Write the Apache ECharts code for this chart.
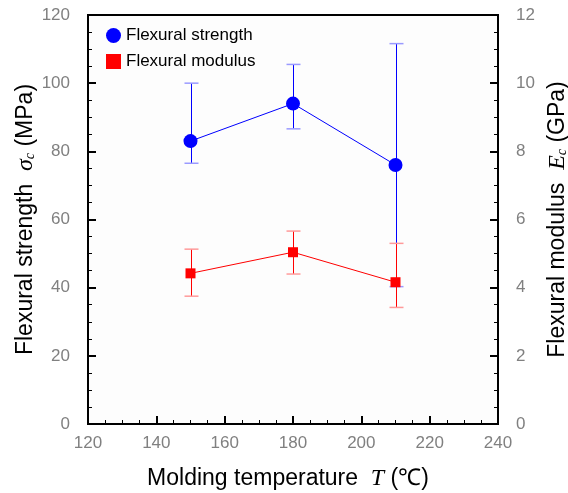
<!DOCTYPE html>
<html><head><meta charset="utf-8">
<script src="https://cdn.jsdelivr.net/npm/echarts@6/dist/echarts.min.js"></script>
<style>html,body{margin:0;padding:0;background:#fff}#c{width:568px;height:493px}</style>
</head><body><div id="c"></div>
<script>
const temps = [150, 180, 210];
const strength = [83, 94, 76];
const strengthLow = [76.5, 86.6, 40.3];
const strengthHigh = [100, 105.5, 111.6];
const modulus = [4.42, 5.04, 4.16];
const modulusLow = [3.75, 4.40, 3.42];
const modulusHigh = [5.13, 5.66, 5.30];

const chart = echarts.init(document.getElementById('c'));
const FONT = '"Liberation Sans", Arial, sans-serif';
const SERIF = '"Liberation Serif", "Times New Roman", serif';

function errBar(color, capColor) {
  return function (params, api) {
    const x = api.value(0);
    const lo = api.coord([x, api.value(1)]);
    const hi = api.coord([x, api.value(2)]);
    const px = Math.round(lo[0]) + 0.5;
    const w = 7;
    return {
      type: 'group',
      children: [
        {type: 'line', shape: {x1: px, y1: lo[1], x2: px, y2: hi[1]}, style: {stroke: color, lineWidth: 1}},
        {type: 'line', shape: {x1: px - w, y1: lo[1], x2: px + w, y2: lo[1]}, style: {stroke: capColor, lineWidth: 1.5}},
        {type: 'line', shape: {x1: px - w, y1: hi[1], x2: px + w, y2: hi[1]}, style: {stroke: capColor, lineWidth: 1.5}}
      ]
    };
  };
}

const axisLabel = {color: '#808080', fontSize: 17, fontFamily: FONT};
function nameStyle(extra) {
  return Object.assign({color: '#000', fontSize: 23, fontFamily: FONT,
    rich: {
      it: {fontFamily: SERIF, fontStyle: 'italic', fontSize: 24, color: '#000'},
      sub: {fontFamily: SERIF, fontStyle: 'italic', fontSize: 14, color: '#000', padding: [9, 0, 0, 0]}
    }}, extra || {});
}

chart.setOption({
  animation: false,
  backgroundColor: '#fff',
  grid: {left: 88, right: 70, top: 15, bottom: 69, show: true, borderColor: '#000', borderWidth: 2,
    backgroundColor: '#fdfdfd', containLabel: false, outerBoundsMode: 'none'},
  legend: {
    orient: 'vertical', left: 101, top: 22, itemGap: 9, itemWidth: 15, itemHeight: 15,
    textStyle: {fontSize: 17, fontFamily: FONT, color: '#000'},
    data: [{name: 'Flexural strength', icon: 'circle'}, {name: 'Flexural modulus', icon: 'rect'}]
  },
  xAxis: {
    type: 'value', min: 120, max: 240, interval: 20,
    name: 'Molding temperature  {it|T} (℃)', nameLocation: 'middle', nameGap: 43,
    nameMoveOverlap: false,
    nameTextStyle: nameStyle({padding: [0, 10, 0, 0]}),
    axisLine: {lineStyle: {color: '#000', width: 2}},
    axisTick: {inside: true, length: 8, lineStyle: {color: '#000', width: 2}},
    minorTick: {show: true, splitNumber: 4, length: 4, lineStyle: {color: '#000', width: 1}},
    axisLabel: Object.assign({margin: 11}, axisLabel),
    splitLine: {show: false}
  },
  yAxis: [
    {
      type: 'value', min: 0, max: 120, interval: 20, position: 'left',
      name: 'Flexural strength  {it|σ}{sub|c} (MPa)', nameLocation: 'middle', nameGap: 50, nameRotate: 90,
      nameMoveOverlap: false,
      nameTextStyle: nameStyle(),
      axisLine: {show: true, lineStyle: {color: '#000', width: 2}},
      axisTick: {inside: true, length: 8, lineStyle: {color: '#000', width: 2}},
      minorTick: {show: true, splitNumber: 4, length: 4, lineStyle: {color: '#000', width: 1}},
      axisLabel: Object.assign({margin: 18}, axisLabel),
      splitLine: {show: false}
    },
    {
      type: 'value', min: 0, max: 12, interval: 2, position: 'right',
      name: 'Flexural modulus  {it|E}{sub|c} (GPa)', nameLocation: 'middle', nameGap: 48, nameRotate: 90,
      nameMoveOverlap: false,
      nameTextStyle: nameStyle(),
      axisLine: {show: true, lineStyle: {color: '#000', width: 2}},
      axisTick: {inside: true, length: 8, lineStyle: {color: '#000', width: 2}},
      minorTick: {show: true, splitNumber: 4, length: 4, lineStyle: {color: '#000', width: 1}},
      axisLabel: Object.assign({margin: 18}, axisLabel),
      splitLine: {show: false}
    }
  ],
  series: [
    {
      type: 'custom', name: 'sErr', yAxisIndex: 0, z: 2,
      renderItem: errBar('#0000ff', '#9a9aff'),
      encode: {x: 0, y: [1, 2]},
      data: temps.map((t, i) => [t, strengthLow[i], strengthHigh[i]])
    },
    {
      type: 'custom', name: 'mErr', yAxisIndex: 1, z: 3,
      renderItem: errBar('#ff0000', '#ff9a9a'),
      encode: {x: 0, y: [1, 2]},
      data: temps.map((t, i) => [t, modulusLow[i], modulusHigh[i]])
    },
    {
      name: 'Flexural strength', type: 'line', yAxisIndex: 0, z: 4,
      symbol: 'circle', symbolSize: 14,
      itemStyle: {color: '#0000ff'}, lineStyle: {color: '#0000ff', width: 1},
      data: temps.map((t, i) => [t, strength[i]])
    },
    {
      name: 'Flexural modulus', type: 'line', yAxisIndex: 1, z: 5,
      symbol: 'rect', symbolSize: 10,
      itemStyle: {color: '#ff0000'}, lineStyle: {color: '#ff0000', width: 1},
      data: temps.map((t, i) => [t, modulus[i]])
    }
  ]
});
</script>
</body></html>
